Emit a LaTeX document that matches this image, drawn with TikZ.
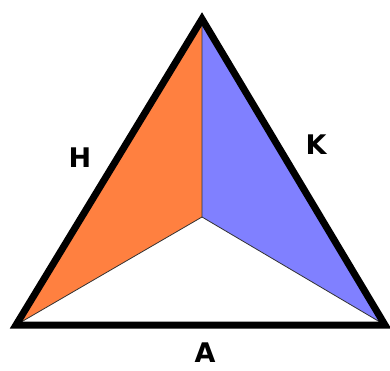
\documentclass[tikz,border=0pt]{standalone}
\usepackage{fontspec}
\setmainfont{DejaVu Sans}
\definecolor{orng}{HTML}{FF8040}
\definecolor{blu}{HTML}{8080FF}
\tikzset{lbl/.style={font=\fontsize{27}{27}\selectfont\bfseries, inner sep=0pt},
  region/.style={draw=black!80, line width=0.8pt}}
\begin{document}
\begin{tikzpicture}[x=1pt,y=-1pt]
\useasboundingbox (0,0) rectangle (390,371);
\coordinate (T) at (202,19);
\coordinate (L) at (16,325);
\coordinate (R) at (385,325);
\coordinate (I) at (202,217);
\fill[orng] (T) -- (I) -- (L) -- cycle;
\fill[blu] (T) -- (R) -- (I) -- cycle;
\draw[region] (T) -- (I) -- (L) (I) -- (R);
\draw[line width=7pt, line join=miter] (T) -- (L) -- (R) -- cycle;
\node[lbl] (h) at (80,158) {H};
\node[lbl] (k) at (316,145) {K};
\node[lbl] (a) at (205,353) {A};
\end{tikzpicture}
\end{document}
